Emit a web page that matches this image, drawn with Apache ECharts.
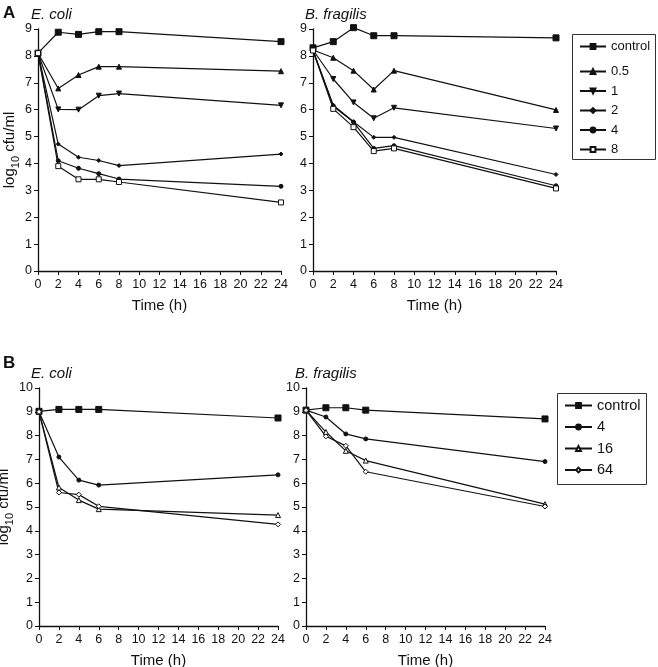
<!DOCTYPE html>
<html><head><meta charset="utf-8">
<script src="https://cdn.jsdelivr.net/npm/echarts@6/dist/echarts.min.js"></script>
<style>html,body{margin:0;padding:0;background:#fff}#c{width:658px;height:667px}</style>
</head><body><div id="c"></div>
<script>
// ---- data ----
const timesA = [0, 2, 4, 6, 8, 24];
const timesB = [0, 2, 4, 6, 24];
const xTicks = [0, 2, 4, 6, 8, 10, 12, 14, 16, 18, 20, 22, 24];

const legendA = ['control', '0.5', '1', '2', '4', '8'];
const legendB = ['control', '4', '16', '64'];

// Panel A, E. coli
const aEcoliControl = [8.1, 8.88, 8.8, 8.9, 8.9, 8.53];
const aEcoli05 = [8.1, 6.79, 7.29, 7.6, 7.6, 7.43];
const aEcoli1 = [8.1, 6.01, 6.0, 6.52, 6.6, 6.16];
const aEcoli2 = [8.1, 4.72, 4.23, 4.11, 3.92, 4.35];
const aEcoli4 = [8.1, 4.1, 3.82, 3.62, 3.42, 3.15];
const aEcoli8 = [8.1, 3.9, 3.41, 3.41, 3.31, 2.55];
// Panel A, B. fragilis
const aFragControl = [8.3, 8.53, 9.05, 8.75, 8.75, 8.67];
const aFrag05 = [8.22, 7.93, 7.45, 6.75, 7.45, 5.99];
const aFrag1 = [8.22, 7.14, 6.27, 5.68, 6.07, 5.3];
const aFrag2 = [8.2, 6.17, 5.55, 4.97, 4.97, 3.59];
const aFrag4 = [8.2, 6.13, 5.54, 4.56, 4.66, 3.17];
const aFrag8 = [8.2, 6.03, 5.35, 4.46, 4.56, 3.07];
// Panel B, E. coli
const bEcoliControl = [9.02, 9.1, 9.1, 9.1, 8.74];
const bEcoli4 = [9.0, 7.1, 6.13, 5.92, 6.35];
const bEcoli16 = [9.0, 5.82, 5.29, 4.91, 4.66];
const bEcoli64 = [9.0, 5.61, 5.52, 5.03, 4.27];
// Panel B, B. fragilis
const bFragControl = [9.07, 9.17, 9.17, 9.07, 8.7];
const bFrag4 = [9.07, 8.78, 8.07, 7.86, 6.91];
const bFrag16 = [9.07, 8.15, 7.36, 6.95, 5.12];
const bFrag64 = [9.07, 7.97, 7.57, 6.48, 5.02];

// ---- styling ----
const FONT = "'Liberation Sans', Arial, sans-serif";
const INK = '#111';
const sym = {
  'control': {symbol: 'rect', symbolSize: 6, fill: INK},
  '0.5': {symbol: 'triangle', symbolSize: 5, fill: INK},
  '1': {symbol: 'triangle', symbolSize: 5, fill: INK, rotate: 180},
  '2': {symbol: 'diamond', symbolSize: 4, fill: INK},
  '4': {symbol: 'circle', symbolSize: 4, fill: INK},
  '8': {symbol: 'rect', symbolSize: 5, fill: '#fff'},
  '16': {symbol: 'triangle', symbolSize: 5, fill: '#fff'},
  '64': {symbol: 'diamond', symbolSize: 5, fill: '#fff'}
};

function mk(name, xs, ys, idx) {
  const s = sym[name];
  return {
    name: name, type: 'line', xAxisIndex: idx, yAxisIndex: idx,
    data: xs.map((x, i) => [x, ys[i]]),
    symbol: s.symbol, symbolSize: s.symbolSize, symbolRotate: s.rotate || 0,
    showAllSymbol: true, clip: false, animation: false,
    lineStyle: {color: INK, width: 1.2},
    itemStyle: {color: s.fill, borderColor: INK, borderWidth: 1},
    emphasis: {disabled: true}
  };
}

const grids = [
  {left: 38, top: 29, width: 243, height: 242, outerBoundsMode: 'none', containLabel: false},
  {left: 313, top: 29, width: 243, height: 242, outerBoundsMode: 'none', containLabel: false},
  {left: 39, top: 388, width: 239, height: 238, outerBoundsMode: 'none', containLabel: false},
  {left: 306, top: 388, width: 239, height: 238, outerBoundsMode: 'none', containLabel: false}
];

const axisCommon = {
  axisLine: {lineStyle: {color: INK, width: 1.3}},
  axisTick: {show: true, lineStyle: {color: INK, width: 1}, length: 4},
  axisLabel: {color: INK, fontFamily: FONT, fontSize: 12.5},
  splitLine: {show: false}
};

const xAxes = grids.map((g, i) => Object.assign({}, axisCommon, {
  type: 'value', gridIndex: i, min: 0, max: 24, interval: 2,
  axisLabel: Object.assign({}, axisCommon.axisLabel, {margin: 7}),
  name: 'Time (h)', nameLocation: 'middle', nameGap: 27,
  nameTextStyle: {color: INK, fontFamily: FONT, fontSize: 15}
}));

const yName = '{a|log}{s|10}{a| cfu/ml}';
const yAxes = grids.map((g, i) => Object.assign({}, axisCommon, {
  type: 'value', gridIndex: i, min: 0, max: i < 2 ? 9 : 10, interval: 1,
  axisLabel: Object.assign({}, axisCommon.axisLabel, {margin: 6}),
  name: (i === 0 || i === 2) ? yName : '', nameLocation: 'middle', nameGap: 20, nameRotate: 90,
  nameTextStyle: {color: INK, fontFamily: FONT, fontSize: 15,
    rich: {a: {fontFamily: FONT, fontSize: 15, color: INK, verticalAlign: 'bottom'},
           s: {fontFamily: FONT, fontSize: 11, color: INK, verticalAlign: 'bottom', padding: [0, 0, -4, 0]}}}
}));

const series = [
  mk('control', timesA, aEcoliControl, 0), mk('0.5', timesA, aEcoli05, 0), mk('1', timesA, aEcoli1, 0),
  mk('2', timesA, aEcoli2, 0), mk('4', timesA, aEcoli4, 0), mk('8', timesA, aEcoli8, 0),
  mk('control', timesA, aFragControl, 1), mk('0.5', timesA, aFrag05, 1), mk('1', timesA, aFrag1, 1),
  mk('2', timesA, aFrag2, 1), mk('4', timesA, aFrag4, 1), mk('8', timesA, aFrag8, 1),
  mk('control', timesB, bEcoliControl, 2), mk('4', timesB, bEcoli4, 2), mk('16', timesB, bEcoli16, 2), mk('64', timesB, bEcoli64, 2),
  mk('control', timesB, bFragControl, 3), mk('4', timesB, bFrag4, 3), mk('16', timesB, bFrag16, 3), mk('64', timesB, bFrag64, 3)
];

const legendText = (fs) => ({color: INK, fontFamily: FONT, fontSize: fs});
const legends = [
  {data: [legendA[0]], left: 579, top: 40, orient: 'vertical', itemWidth: 26, itemHeight: 6, itemGap: 0,
   textStyle: legendText(13), selectedMode: false, padding: 0},
  {data: legendA.slice(1), left: 579, top: 65, orient: 'vertical', itemWidth: 26, itemHeight: 6, itemGap: 6.5,
   textStyle: legendText(13), selectedMode: false, padding: 0},
  {data: legendB, left: 564, top: 398, orient: 'vertical', itemWidth: 27, itemHeight: 6, itemGap: 6.5,
   textStyle: legendText(14.5), selectedMode: false, padding: 0}
];

const txt = (x, y, text, extra) => ({type: 'text', left: x, top: y,
  style: Object.assign({text: text, fill: INK, font: '13px ' + FONT}, extra || {})});

const graphic = [
  {type: 'rect', shape: {x: 572.5, y: 34.5, width: 83, height: 125}, style: {fill: 'none', stroke: '#333', lineWidth: 1}},
  {type: 'rect', shape: {x: 557.5, y: 393.5, width: 89, height: 91}, style: {fill: 'none', stroke: '#333', lineWidth: 1}},
  txt(3, 5, 'A', {font: 'bold 17px ' + FONT}),
  txt(31, 7, 'E. coli', {font: 'italic 15px ' + FONT}),
  txt(305, 7, 'B. fragilis', {font: 'italic 15px ' + FONT}),
  txt(3, 355, 'B', {font: 'bold 17px ' + FONT}),
  txt(31, 366, 'E. coli', {font: 'italic 15px ' + FONT}),
  txt(295, 366, 'B. fragilis', {font: 'italic 15px ' + FONT})
];

const chart = echarts.init(document.getElementById('c'), null, {renderer: 'canvas'});
chart.setOption({
  animation: false,
  backgroundColor: '#fff',
  grid: grids, xAxis: xAxes, yAxis: yAxes, series: series, legend: legends, graphic: graphic
});
</script></body></html>
